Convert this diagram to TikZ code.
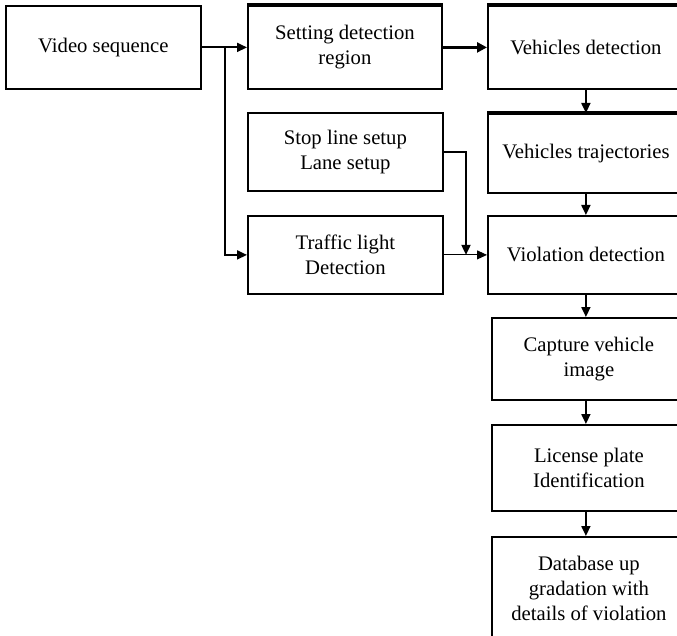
\documentclass[tikz,border=0pt]{standalone}
\usepackage{fontspec}
\setmainfont{Liberation Serif}
\usetikzlibrary{arrows.meta}
\begin{document}
\begin{tikzpicture}[x=1pt,y=1pt,
  box/.style={draw, line width=1.8pt, rectangle, anchor=north west, align=center,
    inner sep=0pt, font=\fontsize{20.7}{25}\selectfont},
  flow/.style={line width=1.8pt, -{Triangle[length=10pt,width=9pt]}},
  heavyflow/.style={line width=3.6pt, -{Triangle[length=10pt,width=10pt]}},
  thinflow/.style={line width=0.9pt, -{Triangle[length=10pt,width=9pt]}},
  topedge/.style={line width=3.6pt}]
\useasboundingbox (0,0) rectangle (677,-636);
\clip (0,0) rectangle (677,-636);
\fill[white] (0,0) rectangle (677,-636);

% left column
\node[box, minimum width=195, minimum height=83] (vid) at (5,-5) {Video sequence};

% middle column
\node[box, minimum width=194, minimum height=83] (set) at (247,-5) {Setting detection\\region};
\node[box, minimum width=195, minimum height=78] (stop) at (247,-112) {Stop line setup\\Lane setup};
\node[box, minimum width=195, minimum height=78] (tl) at (247,-215) {Traffic light\\Detection};

% right column
\node[box, minimum width=196, minimum height=83] (veh) at (487,-5) {Vehicles detection};
\node[box, minimum width=196, minimum height=79] (traj) at (487,-113) {Vehicles trajectories};
\node[box, minimum width=196, minimum height=78] (viol) at (487,-215) {Violation detection};
\node[box, minimum width=194, minimum height=82] (cap) at (491,-317) {Capture vehicle\\image};
\node[box, minimum width=194, minimum height=86] (lic) at (491,-424) {License plate\\Identification};
\node[box, minimum width=194, minimum height=104] (db) at (491,-536) {Database up\\gradation with\\details of violation};

% heavier top borders
\draw[topedge] (set.north west) -- (set.north east);
\draw[topedge] (veh.north west) -- (veh.north east);
\draw[topedge] (traj.north west) -- (traj.north east);

% connectors
\coordinate (split) at (225,-47);
\coordinate (drop) at (466,-152);
\draw[flow] (vid.east) -- (set.west);
\draw[flow] (split) |- (tl.west);
\draw[heavyflow] (set.east) -- (veh.west);
\draw[flow] (veh.south) -- (traj.north);
\draw[flow] (traj.south) -- (viol.north);
\draw[flow] (stop.east |- drop) -- (drop) -- (drop |- tl.east);
\draw[thinflow] (tl.east) -- (viol.west);
\draw[flow] (viol.south) -- (viol.south |- cap.north);
\draw[flow] (viol.south |- cap.south) -- (viol.south |- lic.north);
\draw[flow] (viol.south |- lic.south) -- (viol.south |- db.north);
\end{tikzpicture}
\end{document}
